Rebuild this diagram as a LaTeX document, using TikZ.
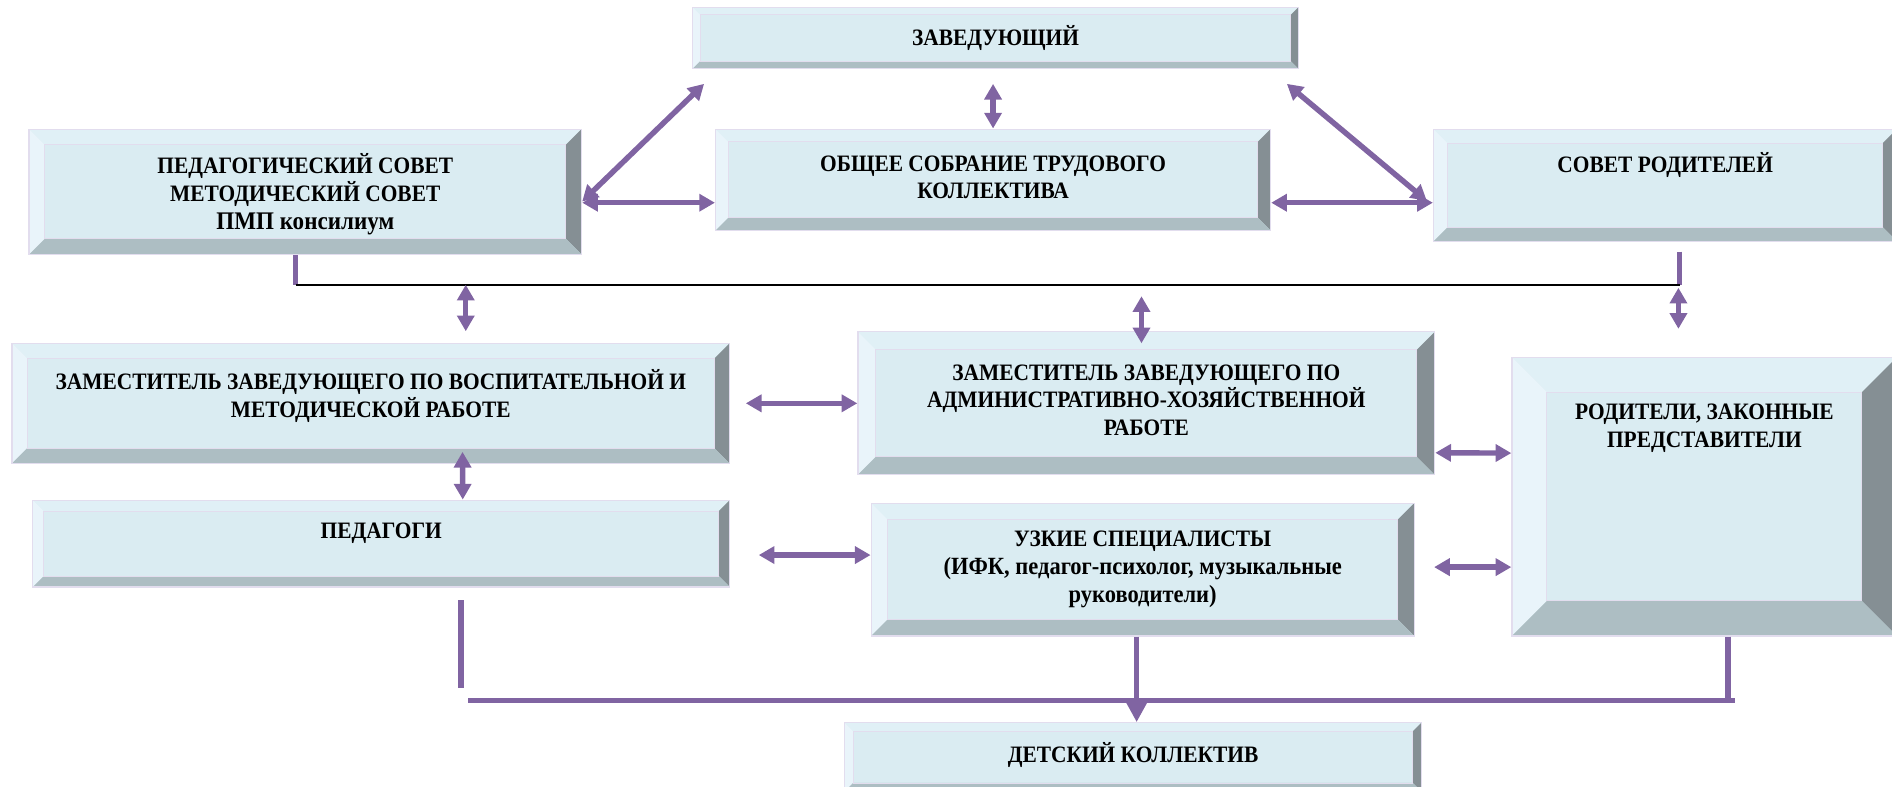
\documentclass[tikz,border=0pt]{standalone}
\usepackage{fontspec}
\setmainfont[FakeStretch=0.91]{Liberation Serif}
\usetikzlibrary{arrows.meta,calc}

\definecolor{bvface}{RGB}{218,236,242}
\definecolor{bvtop}{RGB}{224,240,246}
\definecolor{bvleft}{RGB}{233,244,250}
\definecolor{bvright}{RGB}{133,143,148}
\definecolor{bvbot}{RGB}{173,190,195}
\definecolor{bvline}{RGB}{226,221,238}
\definecolor{arrpurple}{RGB}{128,100,162}

% bevelled frame inside a box node, #1 = bevel width
\newcommand{\bevfill}[1]{%
  \coordinate (o1) at (path picture bounding box.north west);
  \coordinate (o2) at (path picture bounding box.north east);
  \coordinate (o3) at (path picture bounding box.south east);
  \coordinate (o4) at (path picture bounding box.south west);
  \coordinate (i1) at ([shift={(#1pt,-#1pt)}]o1);
  \coordinate (i2) at ([shift={(-#1pt,-#1pt)}]o2);
  \coordinate (i3) at ([shift={(-#1pt,#1pt)}]o3);
  \coordinate (i4) at ([shift={(#1pt,#1pt)}]o4);
  \fill[bvtop] (o1) -- (o2) -- (i2) -- (i1) -- cycle;
  \fill[bvleft] (o1) -- (i1) -- (i4) -- (o4) -- cycle;
  \fill[bvright] (o2) -- (o3) -- (i3) -- (i2) -- cycle;
  \fill[bvbot] (o4) -- (i4) -- (i3) -- (o3) -- cycle;
  \draw[bvline, line width=0.8pt] (i1) rectangle (i3);
}
\newcommand{\lowline}{\fontsize{20.5}{21.6}\selectfont}

\tikzset{
  bevbox/.style n args={3}{draw=bvline, line width=1pt, fill=bvface, inner sep=0pt,
    minimum width=#1pt, minimum height=#2pt, path picture={\bevfill{#3}}},
  boxtext/.style={font=\bfseries\fontsize{19.5}{23}\selectfont, align=center, inner sep=0pt},
  dblarrow/.style={draw=arrpurple, line width=4.5pt,
    {Triangle[length=13pt,width=14pt]}-{Triangle[length=13pt,width=14pt]}},
  stubline/.style={draw=arrpurple, line width=4.5pt},
}

\begin{document}
\begin{tikzpicture}[x=1pt,y=-1pt]
    \useasboundingbox (0,0) rectangle (1568,652);
    \clip (0,0) rectangle (1568,652);

    \node[bevbox={502}{51}{6.4}] (zav) at (825,31.5) {};
    \node[bevbox={458}{104}{13}] (ped) at (253,159) {};
    \node[bevbox={460}{84}{10.5}] (obsh) at (823,149) {};
    \node[bevbox={384}{93}{11.6}] (sovrod) at (1380,153.5) {};
    \node[bevbox={594.6}{99.5}{12.4}] (zamvosp) at (307.3,334.25) {};
    \node[bevbox={478}{118.5}{14.8}] (zamahr) at (950,334.25) {};
    \node[bevbox={319}{231}{29}] (rod) at (1412.5,411.5) {};
    \node[bevbox={577.6}{72}{9}] (pedagogi) at (316,450.5) {};
    \node[bevbox={450}{110}{13.7}] (uzkie) at (947,472) {};
    \node[bevbox={478}{57}{7.1}] (det) at (939,627.5) {};

    \node[boxtext] (zav-t) at (zav.center) {ЗАВЕДУЮЩИЙ};
    \node[boxtext] (ped-t) at ([yshift=-2pt]ped.center) {ПЕДАГОГИЧЕСКИЙ СОВЕТ\\МЕТОДИЧЕСКИЙ СОВЕТ\\{\fontsize{21}{21}\selectfont ПМП консилиум}};
    \node[boxtext] (obsh-t) at ([yshift=2pt]obsh.center) {ОБЩЕЕ СОБРАНИЕ ТРУДОВОГО\\КОЛЛЕКТИВА};
    \node[boxtext] (sovrod-t) at ([yshift=16.7pt]sovrod.center) {СОВЕТ РОДИТЕЛЕЙ};
    \node[boxtext] (zamvosp-t) at ([yshift=6pt]zamvosp.center) {ЗАМЕСТИТЕЛЬ ЗАВЕДУЮЩЕГО ПО ВОСПИТАТЕЛЬНОЙ И\\МЕТОДИЧЕСКОЙ РАБОТЕ};
    \node[boxtext] (zamahr-t) at ([yshift=2.5pt]zamahr.center) {ЗАМЕСТИТЕЛЬ ЗАВЕДУЮЩЕГО ПО\\АДМИНИСТРАТИВНО-ХОЗЯЙСТВЕННОЙ\\РАБОТЕ};
    \node[boxtext] (rod-t) at ([yshift=56.5pt]rod.center) {РОДИТЕЛИ, ЗАКОННЫЕ\\ПРЕДСТАВИТЕЛИ};
    \node[boxtext] (pedagogi-t) at ([yshift=8.5pt]pedagogi.center) {ПЕДАГОГИ};
    \node[boxtext] (uzkie-t) at (uzkie.center) {УЗКИЕ СПЕЦИАЛИСТЫ\\{\lowline (ИФК, педагог-психолог, музыкальные}\\{\lowline руководители)}};
    \node[boxtext] (det-t) at ([yshift=1.5pt]det.center) {ДЕТСКИЙ КОЛЛЕКТИВ};

    \draw[dblarrow] ([xshift=10pt,yshift=-12pt]zav.south west) -- ([yshift=-8pt]ped.east);
    \draw[dblarrow] ([xshift=-2pt,yshift=-12pt]zav.south) -- (obsh.north);
    \draw[dblarrow] ([xshift=-10pt,yshift=-12pt]zav.south east) -- ([xshift=-5pt,yshift=-13pt]sovrod.west);
    \draw[dblarrow] ([yshift=-9pt]ped.east) -- ([yshift=-19pt]obsh.west);
    \draw[dblarrow] ([yshift=-19pt]obsh.east) -- ([yshift=-14.5pt]sovrod.west);

    \coordinate (bus-l) at ([xshift=-8pt,yshift=-24.5pt]ped.south);
    \coordinate (bus-r) at ([xshift=12pt,yshift=-35.5pt]sovrod.south);
    \draw[stubline] ([xshift=-8pt]ped.south) -- (bus-l);
    \draw[stubline] ([xshift=12pt,yshift=-8pt]sovrod.south) -- (bus-r);
    \draw[line width=1.5pt] (bus-l) -- (bus-r);

    \coordinate (zamvosp-a) at ([xshift=78.7pt,yshift=9.5pt]zamvosp.north);
    \coordinate (zamahr-a) at ([xshift=-4pt,yshift=-10pt]zamahr.north);
    \coordinate (rod-a) at ([xshift=-21.5pt,yshift=23pt]rod.north);
    \draw[dblarrow] (bus-l -| zamvosp-a) -- (zamvosp-a);
    \draw[dblarrow] ($(bus-l -| zamahr-a)+(0,9.5)$) -- (zamahr-a);
    \draw[dblarrow] ($(bus-r -| rod-a)+(0,2.5)$) -- (rod-a);

    \draw[dblarrow] ([xshift=13pt]zamvosp.east) -- (zamahr.west);
    \draw[dblarrow] ([yshift=-41pt]zamahr.east) -- ([yshift=36pt]rod.west);
    \draw[dblarrow] ([xshift=76pt,yshift=10pt]zamvosp.south) -- ([xshift=67.5pt]pedagogi.north);
    \draw[dblarrow] ([xshift=23.5pt,yshift=-9.5pt]pedagogi.east) -- ([yshift=12pt]uzkie.west);
    \draw[dblarrow] ([xshift=16pt,yshift=2pt]uzkie.east) -- ([yshift=-58.5pt]rod.west);

    \coordinate (bar-l) at ([xshift=72pt,yshift=-93.5pt]pedagogi.south);
    \coordinate (bar-r) at ([xshift=25.5pt,yshift=-53pt]rod.south);
    \coordinate (rod-b) at ([xshift=19.5pt]rod.south);
    \draw[stubline] ([xshift=66pt,yshift=-10.5pt]pedagogi.south) -- ([xshift=66pt,yshift=-83.5pt]pedagogi.south);
    \draw[stubline] (bar-l) -- (bar-r);
    \draw[stubline] (rod-b) -- (rod-b |- bar-r);
    \draw[stubline, -{Triangle[length=17pt,width=17pt]}] ([xshift=-5pt]uzkie.south) -- ([xshift=3pt]det.north);
\end{tikzpicture}
\end{document}
